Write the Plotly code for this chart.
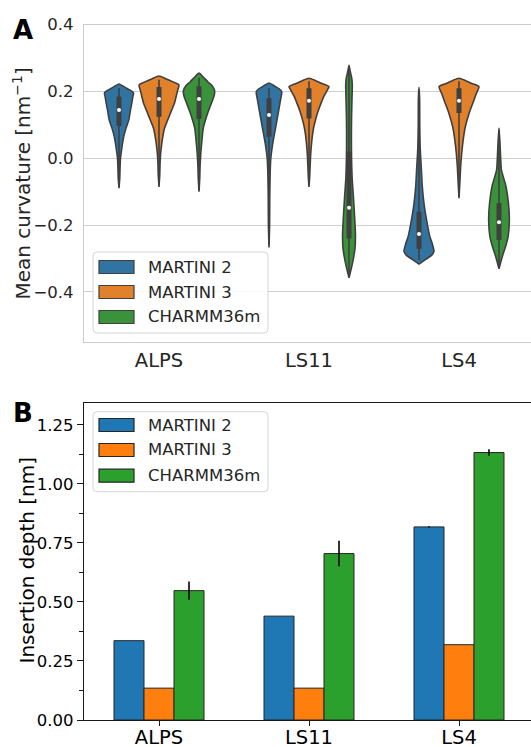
import plotly.graph_objects as go

W, H = 531, 747
ML = 84  # left margin in px

categories = ["ALPS", "LS11", "LS4"]
models = ["MARTINI 2", "MARTINI 3", "CHARMM36m"]
violin_colors = ["#3274a1", "#e1812c", "#3a923a"]
bar_colors = ["#1f77b4", "#ff7f0e", "#2ca02c"]

# ---------------- Panel A: violin profiles (curvature value, half width) ----------------
alps_m2_y = [0.222, 0.212, 0.202, 0.195, 0.185, 0.164, 0.14, 0.114, 0.09, 0.064, 0.04, 0.024, 0.0, -0.03, -0.06, -0.09]
alps_m2_w = [0.0, 0.04, 0.08, 0.097, 0.093, 0.085, 0.075, 0.065, 0.047, 0.031, 0.022, 0.017, 0.010, 0.007, 0.005, 0.0]
alps_m3_y = [0.246, 0.238, 0.229, 0.219, 0.204, 0.184, 0.164, 0.139, 0.114, 0.089, 0.064, 0.039, 0.014, -0.016, -0.05, -0.086]
alps_m3_w = [0.0, 0.045, 0.09, 0.133, 0.125, 0.114, 0.103, 0.08, 0.058, 0.036, 0.025, 0.017, 0.011, 0.007, 0.005, 0.0]
alps_c36_y = [0.255, 0.243, 0.228, 0.218, 0.204, 0.194, 0.179, 0.164, 0.139, 0.114, 0.089, 0.064, 0.014, -0.026, -0.06, -0.10]
alps_c36_w = [0.0, 0.028, 0.06, 0.085, 0.103, 0.104, 0.095, 0.082, 0.061, 0.043, 0.028, 0.022, 0.012, 0.007, 0.005, 0.0]

ls11_m2_y = [0.225, 0.215, 0.207, 0.199, 0.17, 0.144, 0.094, 0.044, -0.006, -0.06, -0.12, -0.2, -0.267]
ls11_m2_w = [0.0, 0.04, 0.07, 0.085, 0.075, 0.065, 0.045, 0.025, 0.011, 0.007, 0.005, 0.004, 0.0]
ls11_m3_y = [0.239, 0.232, 0.223, 0.214, 0.204, 0.184, 0.164, 0.144, 0.119, 0.094, 0.069, 0.044, 0.01, -0.03, -0.06, -0.086]
ls11_m3_w = [0.0, 0.045, 0.09, 0.133, 0.122, 0.098, 0.08, 0.063, 0.046, 0.032, 0.023, 0.017, 0.011, 0.007, 0.004, 0.0]
ls11_c36_y = [0.278, 0.26, 0.24, 0.22, 0.18, 0.12, 0.06, 0.0, -0.06, -0.12, -0.18, -0.23, -0.27, -0.31, -0.34, -0.358]
ls11_c36_w = [0.0, 0.008, 0.018, 0.022, 0.02, 0.017, 0.016, 0.017, 0.021, 0.03, 0.038, 0.043, 0.04, 0.025, 0.01, 0.0]

ls4_m2_y = [0.212, 0.18, 0.1, 0.03, -0.035, -0.085, -0.135, -0.184, -0.234, -0.254, -0.272, -0.279, -0.29, -0.303, -0.317]
ls4_m2_w = [0.0, 0.004, 0.005, 0.008, 0.016, 0.022, 0.033, 0.05, 0.072, 0.087, 0.098, 0.1, 0.085, 0.045, 0.0]
ls4_m3_y = [0.239, 0.232, 0.223, 0.214, 0.194, 0.174, 0.134, 0.094, 0.055, 0.015, -0.025, -0.07, -0.12]
ls4_m3_w = [0.0, 0.045, 0.09, 0.133, 0.116, 0.1, 0.067, 0.042, 0.028, 0.018, 0.011, 0.006, 0.0]
ls4_c36_y = [0.09, 0.05, 0.0, -0.035, -0.085, -0.135, -0.184, -0.234, -0.264, -0.294, -0.331]
ls4_c36_w = [0.0, 0.006, 0.011, 0.016, 0.047, 0.063, 0.069, 0.061, 0.044, 0.022, 0.0]

# inner box statistics, rows = models, columns = categories
box_q1 = [[0.096, 0.064, -0.271], [0.124, 0.119, 0.135], [0.117, -0.24, -0.245]]
box_med = [[0.144, 0.129, -0.227], [0.177, 0.172, 0.172], [0.177, -0.148, -0.192]]
box_q3 = [[0.184, 0.179, -0.16], [0.213, 0.209, 0.209], [0.215, 0.02, -0.135]]
whisk_lo = [[-0.085, -0.26, -0.305], [-0.08, -0.08, -0.115], [-0.095, -0.35, -0.32]]
whisk_hi = [[0.21, 0.21, 0.205], [0.235, 0.23, 0.23], [0.24, 0.27, 0.085]]

# ---------------- Panel B: insertion depth ----------------
depth_m2 = [0.336, 0.44, 0.818]
depth_m3 = [0.135, 0.135, 0.319]
depth_c36 = [0.548, 0.705, 1.133]
err_m2 = [0.0, 0.0, 0.003]
err_m3 = [0.0, 0.0, 0.0]
err_c36 = [0.039, 0.054, 0.014]

profiles = {
    (0, 0): (alps_m2_y, alps_m2_w), (0, 1): (alps_m3_y, alps_m3_w), (0, 2): (alps_c36_y, alps_c36_w),
    (1, 0): (ls11_m2_y, ls11_m2_w), (1, 1): (ls11_m3_y, ls11_m3_w), (1, 2): (ls11_c36_y, ls11_c36_w),
    (2, 0): (ls4_m2_y, ls4_m2_w), (2, 1): (ls4_m3_y, ls4_m3_w), (2, 2): (ls4_c36_y, ls4_c36_w),
}

GRAY = "#3f3f3f"
FONT = "DejaVu Sans"
TXT = "#262626"

fig = go.Figure()

hue_offsets = [-0.8 / 3, 0.0, 0.8 / 3]

for ci in range(len(categories)):
    for mi in range(len(models)):
        ys, ws = profiles[(ci, mi)]
        c = ci + hue_offsets[mi]
        px = [c + w for w in ws] + [c - w for w in reversed(ws)]
        py = list(ys) + list(reversed(ys))
        fig.add_trace(go.Scatter(
            x=px, y=py, mode="lines", fill="toself", fillcolor=violin_colors[mi],
            line=dict(color=GRAY, width=1.6, shape="spline", smoothing=0.6),
            xaxis="x", yaxis="y", showlegend=False, hoverinfo="skip"))
        fig.add_trace(go.Scatter(
            x=[c, c], y=[whisk_lo[mi][ci], whisk_hi[mi][ci]], mode="lines",
            line=dict(color=GRAY, width=1.6), xaxis="x", yaxis="y",
            showlegend=False, hoverinfo="skip"))
        fig.add_trace(go.Scatter(
            x=[c, c], y=[box_q1[mi][ci], box_q3[mi][ci]], mode="lines",
            line=dict(color=GRAY, width=5), xaxis="x", yaxis="y",
            showlegend=False, hoverinfo="skip"))
        fig.add_trace(go.Scatter(
            x=[c], y=[box_med[mi][ci]], mode="markers",
            marker=dict(color="white", size=4, line=dict(width=0)),
            xaxis="x", yaxis="y", showlegend=False, hoverinfo="skip"))

depths = [depth_m2, depth_m3, depth_c36]
errs = [err_m2, err_m3, err_c36]
for mi in range(len(models)):
    fig.add_trace(go.Bar(
        x=list(range(len(categories))), y=depths[mi], name=models[mi],
        marker=dict(color=bar_colors[mi], line=dict(color="#262626", width=1)),
        error_y=dict(type="data", array=errs[mi], color="black", thickness=1.6, width=0),
        xaxis="x2", yaxis="y2", showlegend=False))


def pxx(p):
    return (p - ML) / (W - ML)


def pyy(p):
    return (H - p) / H


shapes = []
annotations = []


def rounded_rect(x0, y0, x1, y1, r, color, fill):
    X0, X1 = pxx(x0), pxx(x1)
    Y0, Y1 = pyy(y0), pyy(y1)
    rx = r / (W - ML)
    ry = r / H
    path = (f"M {X0+rx},{Y0} L {X1-rx},{Y0} Q {X1},{Y0} {X1},{Y0-ry} "
            f"L {X1},{Y1+ry} Q {X1},{Y1} {X1-rx},{Y1} L {X0+rx},{Y1} "
            f"Q {X0},{Y1} {X0},{Y1+ry} L {X0},{Y0-ry} Q {X0},{Y0} {X0+rx},{Y0} Z")
    return dict(type="path", xref="paper", yref="paper", path=path,
                line=dict(color=color, width=1), fillcolor=fill, layer="above")


def legend(frame_top, frame_bottom, rows, colors, edge):
    shapes.append(rounded_rect(93, frame_top, 268, frame_bottom, 4, "#d5d5d5", "rgba(255,255,255,0.85)"))
    for yc, col, name in zip(rows, colors, models):
        shapes.append(dict(type="rect", xref="paper", yref="paper",
                           x0=pxx(99), x1=pxx(134), y0=pyy(yc - 6.5), y1=pyy(yc + 6.5),
                           fillcolor=col, line=dict(color=edge, width=1.2), layer="above"))
        annotations.append(dict(xref="paper", yref="paper", x=pxx(146), y=pyy(yc),
                                xanchor="left", yanchor="middle", text=name, showarrow=False,
                                font=dict(family=FONT, size=16.5, color=TXT)))


legend(252, 333, [267, 292, 317], violin_colors, GRAY)
legend(411.7, 491.7, [425, 450, 475.7], bar_colors, "#262626")

# panel letters
annotations.append(dict(xref="paper", yref="paper", x=pxx(23), y=pyy(30), text="<b>A</b>",
                        showarrow=False, xanchor="center", yanchor="middle",
                        font=dict(family=FONT, size=26, color="black")))
annotations.append(dict(xref="paper", yref="paper", x=pxx(23), y=pyy(413), text="<b>B</b>",
                        showarrow=False, xanchor="center", yanchor="middle",
                        font=dict(family=FONT, size=26, color="black")))
# axis titles
annotations.append(dict(xref="paper", yref="paper", x=pxx(22), y=pyy(183.5),
                        text="Mean curvature [nm<sup>−1</sup>]", textangle=-90,
                        showarrow=False, xanchor="center", yanchor="middle",
                        font=dict(family=FONT, size=20, color=TXT)))
annotations.append(dict(xref="paper", yref="paper", x=pxx(26), y=pyy(560.5),
                        text="Insertion depth [nm]", textangle=-90,
                        showarrow=False, xanchor="center", yanchor="middle",
                        font=dict(family=FONT, size=20, color="black")))

top_ticks = [-0.4, -0.2, 0.0, 0.2, 0.4]
top_labels = ["−0.4", "−0.2", "0.0", "0.2", "0.4"]
bot_ticks = [0.0, 0.25, 0.5, 0.75, 1.0, 1.25]
bot_labels = ["0.00", "0.25", "0.50", "0.75", "1.00", "1.25"]

fig.update_layout(
    width=W, height=H, margin=dict(l=ML, r=0, t=0, b=0),
    paper_bgcolor="white", plot_bgcolor="white",
    font=dict(family=FONT, color=TXT),
    barmode="group", bargap=0.4, bargroupgap=0,
    showlegend=False,
    xaxis=dict(domain=[0, 1], anchor="y", range=[-0.5, 2.48],
               tickvals=[0, 1, 2], ticktext=categories, showgrid=False, zeroline=False,
               showline=True, linecolor="#cccccc", linewidth=1.3, mirror=True,
               ticks="", ticklabelstandoff=0,
               tickfont=dict(family=FONT, size=19.5, color=TXT), automargin=False),
    yaxis=dict(domain=[pyy(342), pyy(24.5)], anchor="x", range=[-0.55, 0.4],
               tickvals=top_ticks, ticktext=top_labels, showgrid=True,
               gridcolor="#d0d0d0", gridwidth=1.2, zeroline=False,
               showline=True, linecolor="#cccccc", linewidth=1.3, mirror=False,
               ticks="", ticklabelstandoff=6,
               tickfont=dict(family=FONT, size=16.5, color=TXT), automargin=False),
    xaxis2=dict(domain=[0, 1], anchor="y2", range=[-0.5, 2.48],
                tickvals=[0, 1, 2], ticktext=categories, showgrid=False, zeroline=False,
                showline=True, linecolor="#1a1a1a", linewidth=1.3, mirror=True,
                ticks="outside", ticklen=5, tickwidth=1.2, tickcolor="#1a1a1a",
                ticklabelstandoff=-6,
                tickfont=dict(family=FONT, size=19.5, color="black"), automargin=False),
    yaxis2=dict(domain=[pyy(720), pyy(402.5)], anchor="x2", range=[0, 1.345],
                tickvals=bot_ticks, ticktext=bot_labels, showgrid=False, zeroline=False,
                showline=True, linecolor="#1a1a1a", linewidth=1.3, mirror=False,
                ticks="outside", ticklen=6, tickwidth=1.2, tickcolor="#1a1a1a",
                minor=dict(tickvals=[0.125, 0.375, 0.625, 0.875, 1.125], ticks="outside",
                           ticklen=3.5, tickwidth=1, tickcolor="#1a1a1a", showgrid=False),
                tickfont=dict(family=FONT, size=16.5, color="black"), automargin=False),
    shapes=shapes, annotations=annotations,
)

fig.write_html("out.html", config={"displayModeBar": False},
               post_script="document.body.style.margin='0';document.body.style.overflow='hidden';")
